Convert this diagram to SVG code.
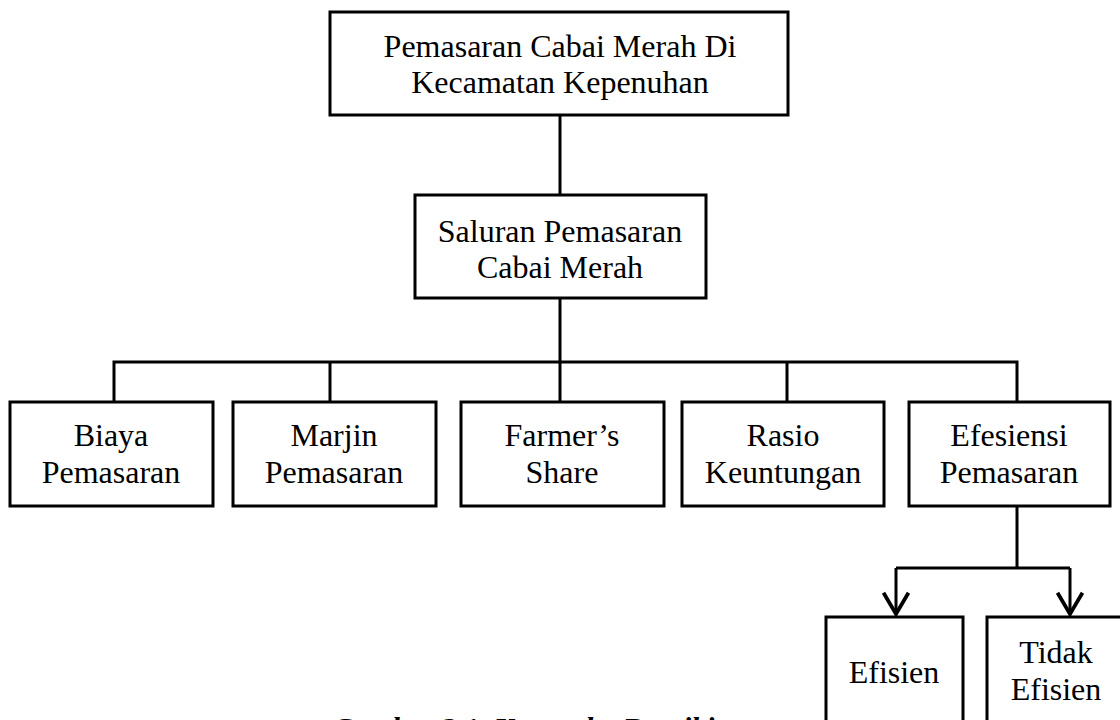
<svg xmlns="http://www.w3.org/2000/svg" width="1120" height="720" viewBox="0 0 1120 720">
<defs>
<style>
.box{fill:#fff;stroke:#000;stroke-width:3}
.lbl{font-family:"Liberation Serif","Times New Roman",serif;font-size:32px;fill:#000;text-anchor:middle}
.con{fill:none;stroke:#000;stroke-width:3}
.cap{font-family:"Liberation Serif","Times New Roman",serif;font-size:30px;font-style:italic;font-weight:bold;fill:#000;text-anchor:middle}
</style>
<marker id="arr" markerUnits="userSpaceOnUse" markerWidth="30" markerHeight="30" viewBox="-20 -12 24 24" refX="0" refY="0" orient="auto">
<path d="M -17 -10 L 0 0 L -17 10" fill="none" stroke="#000" stroke-width="3"/>
</marker>
</defs>
<rect width="1120" height="720" fill="#fff"/>
<g id="connectors">
<path class="con" d="M560 115 V195"/>
<path class="con" d="M560 298 V362"/>
<path class="con" d="M114 402 V362 H1017 V402"/>
<path class="con" d="M330 362 V402"/>
<path class="con" d="M560 362 V402"/>
<path class="con" d="M787 362 V402"/>
<path class="con" d="M1017 506 V568"/>
<path class="con" d="M896 568 H1070"/>
<path class="con" d="M896 568 V614" marker-end="url(#arr)"/>
<path class="con" d="M1070 568 V614" marker-end="url(#arr)"/>
</g>
<g id="n-top">
<rect class="box" x="330" y="12" width="458" height="103"/>
<text class="lbl" x="560" y="57">Pemasaran Cabai Merah Di</text>
<text class="lbl" x="560" y="93">Kecamatan Kepenuhan</text>
</g>
<g id="n-saluran">
<rect class="box" x="415" y="195" width="291" height="103"/>
<text class="lbl" x="560" y="242">Saluran Pemasaran</text>
<text class="lbl" x="560" y="278">Cabai Merah</text>
</g>
<g id="n-biaya">
<rect class="box" x="10" y="402" width="203" height="104"/>
<text class="lbl" x="111" y="446">Biaya</text>
<text class="lbl" x="111" y="483">Pemasaran</text>
</g>
<g id="n-marjin">
<rect class="box" x="233" y="402" width="203" height="104"/>
<text class="lbl" x="334" y="446">Marjin</text>
<text class="lbl" x="334" y="483">Pemasaran</text>
</g>
<g id="n-farmer">
<rect class="box" x="461" y="402" width="203" height="104"/>
<text class="lbl" x="562" y="446">Farmer’s</text>
<text class="lbl" x="562" y="483">Share</text>
</g>
<g id="n-rasio">
<rect class="box" x="682" y="402" width="202" height="104"/>
<text class="lbl" x="783" y="446">Rasio</text>
<text class="lbl" x="783" y="483">Keuntungan</text>
</g>
<g id="n-efesiensi">
<rect class="box" x="909" y="402" width="201" height="104"/>
<text class="lbl" x="1009" y="446">Efesiensi</text>
<text class="lbl" x="1009" y="483">Pemasaran</text>
</g>
<g id="n-efisien">
<rect class="box" x="826" y="617" width="137" height="150"/>
<text class="lbl" x="894" y="683">Efisien</text>
</g>
<g id="n-tidak">
<rect class="box" x="987" y="617" width="138" height="150"/>
<text class="lbl" x="1056" y="663">Tidak</text>
<text class="lbl" x="1056" y="700">Efisien</text>
</g>
<text class="cap" x="529" y="738">Gambar 2.1. Kerangka Berpikir</text>
</svg>
